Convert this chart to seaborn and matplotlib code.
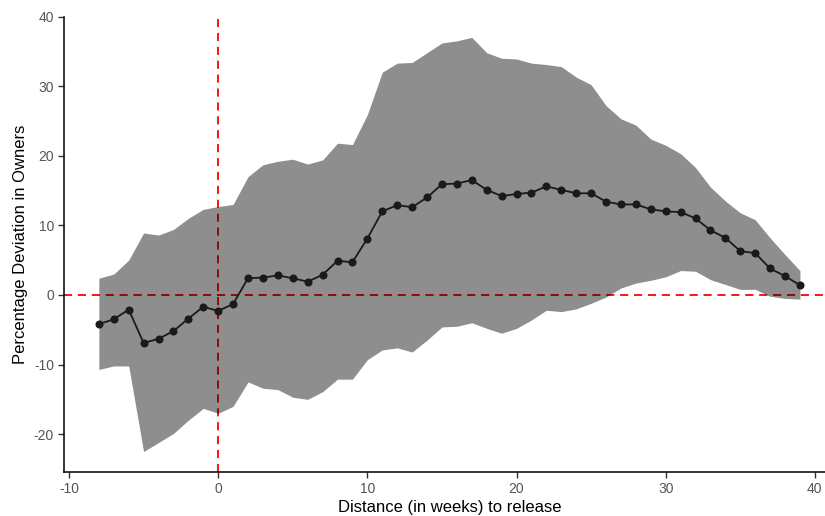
import matplotlib
matplotlib.use("Agg")
import matplotlib.pyplot as plt
import seaborn as sns
import numpy as np
import pandas as pd

# Event-study estimates: weeks relative to release
weeks = list(range(-8, 40))

estimate = [-4.2, -3.5, -2.1, -6.9, -6.3, -5.2, -3.4, -1.7, -2.3, -1.3,
            2.4, 2.5, 2.8, 2.4, 1.9, 2.9, 4.9, 4.7, 8.1, 12.0,
            12.9, 12.6, 14.0, 15.9, 16.0, 16.5, 15.1, 14.2, 14.5, 14.7,
            15.6, 15.1, 14.6, 14.6, 13.4, 13.0, 13.0, 12.3, 12.0, 11.9,
            11.0, 9.3, 8.2, 6.3, 6.0, 3.8, 2.7, 1.4]

upper = [2.4, 3.0, 5.0, 8.9, 8.6, 9.4, 11.0, 12.3, 12.7, 13.0,
         17.0, 18.7, 19.2, 19.5, 18.8, 19.4, 21.8, 21.6, 25.9, 32.0,
         33.3, 33.4, 34.8, 36.2, 36.5, 37.0, 34.8, 34.0, 33.9, 33.3,
         33.1, 32.8, 31.3, 30.2, 27.2, 25.3, 24.4, 22.4, 21.5, 20.3,
         18.3, 15.5, 13.5, 11.8, 10.8, 8.2, 5.8, 3.5]

lower = [-10.7, -10.2, -10.2, -22.5, -21.2, -19.9, -18.0, -16.3, -17.0, -16.0,
         -12.5, -13.4, -13.6, -14.7, -15.0, -13.9, -12.1, -12.1, -9.3, -7.9,
         -7.6, -8.2, -6.5, -4.6, -4.5, -4.0, -4.8, -5.5, -4.8, -3.6,
         -2.2, -2.4, -2.0, -1.2, -0.3, 1.0, 1.7, 2.1, 2.6, 3.5,
         3.4, 2.2, 1.5, 0.8, 0.8, -0.2, -0.5, -0.6]

x_ticks = [-10, 0, 10, 20, 30, 40]
y_ticks = [-20, -10, 0, 10, 20, 30, 40]

df = pd.DataFrame({"week": weeks, "estimate": estimate,
                   "upper": upper, "lower": lower})

sns.set_theme(style="white")
plt.rcParams["font.family"] = ["Liberation Sans", "DejaVu Sans"]

W, H = 825, 516
fig = plt.figure(figsize=(W / 100, H / 100), dpi=100)
x0, x1 = 63.8, 835.0
y_top, y_bot = 16.5, 472.3
ax = fig.add_axes([x0 / W, 1 - y_bot / H, (x1 - x0) / W, (y_bot - y_top) / H])

# reference lines (drawn beneath the shaded band)
dash = (0, (4.5, 3.2))
ax.axhline(0, color="#FF0000", lw=1.3, linestyle=dash, zorder=1)
ax.axvline(0, color="#FF0000", lw=1.3, linestyle=dash, zorder=1)

# confidence band
ax.fill_between(df["week"], df["lower"], df["upper"],
                color="black", alpha=0.445, linewidth=0, zorder=2)

# point estimates
sns.lineplot(data=df, x="week", y="estimate", ax=ax, color="#1a1a1a",
             lw=1.3, marker="o", markersize=5.8, markeredgewidth=0,
             zorder=3)

ax.set_xlim(-10.35, 41.35)
ax.set_ylim(-25.48, 39.98)
ax.set_xticks(x_ticks)
ax.set_yticks(y_ticks)
ax.set_xticklabels([str(t) for t in x_ticks])
ax.set_yticklabels([str(t) for t in y_ticks])

for side in ["top", "right"]:
    ax.spines[side].set_visible(False)
for side in ["left", "bottom"]:
    ax.spines[side].set_color("black")
    ax.spines[side].set_linewidth(1.1)

ax.tick_params(axis="both", which="major", length=4, width=1.0,
               color="#333333", labelsize=10, labelcolor="#555555",
               direction="out", pad=3, bottom=True, left=True)

ax.set_xlabel("Distance (in weeks) to release", fontsize=12,
              color="black", labelpad=3)
ax.set_ylabel("Percentage Deviation in Owners", fontsize=12,
              color="black", labelpad=4)
ax.grid(False)
ax.set_facecolor("white")

fig.savefig("out.png", dpi=100, facecolor="white")
